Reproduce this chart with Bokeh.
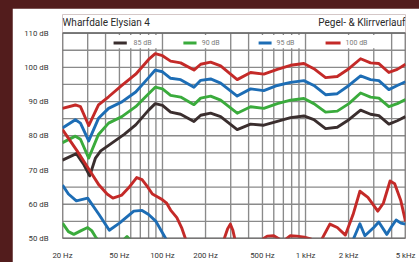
import numpy as np
from bokeh.plotting import figure
from bokeh.models import FixedTicker
from bokeh.embed import file_html
from bokeh.resources import INLINE
from bokeh.core.properties import value

NAN = float("nan")

# ---------------- data ----------------
freq_main = [20, 24.6, 26.7, 30.5, 35.7, 42, 52, 65, 80, 89, 100, 114, 134, 166, 185, 217, 255,
             333, 413, 511, 635, 786, 974, 1144, 1381, 1667, 2009, 2427, 2849, 3257, 3826, 4381, 5000]
level_100 = [88, 89, 88.5, 83, 89, 91.4, 94.7, 98, 102.3, 104, 103.4, 101.8, 101.3, 99.2, 100.9, 101.5, 100.4,
             96.4, 98.5, 98, 99.4, 100.6, 101.1, 99.6, 97, 97.3, 99.6, 102.5, 101.3, 101.1, 98.5, 99.4, 100.9]
level_95 = [82.3, 84.7, 83.7, 78.5, 85.1, 88, 89.9, 92.8, 97, 99.2, 98.7, 96.8, 96.4, 94.2, 96.2, 96.6, 95.4,
            91.6, 93.7, 93.2, 94.7, 95.6, 96.1, 94.7, 92, 92.3, 94.7, 97.5, 96.4, 96.1, 93.5, 94.7, 95.8]
level_90 = [78, 79.9, 79, 73.5, 80.4, 83.7, 85.6, 88.5, 92.3, 94.2, 93.7, 91.8, 91.3, 89.1, 91.0, 91.6, 90.4,
            86.6, 88.5, 88, 89.4, 90.4, 90.9, 89.4, 86.9, 87.2, 89.4, 92.5, 91.3, 91, 88.5, 89.4, 90.6]
freq_85 = [20, 25, 28, 31, 34, 37, 42, 54, 65, 80, 89, 100, 114, 134, 166, 185, 217, 255,
           333, 413, 511, 635, 786, 974, 1144, 1381, 1667, 2009, 2427, 2849, 3257, 3826, 4381, 5000]
level_85 = [72.9, 74.8, 71.8, 68.3, 73.5, 75.6, 77.2, 80.4, 83.2, 87.5, 89.4, 88.9, 86.9, 86.3, 84.2, 86.0, 86.6, 85.6,
            81.8, 83.4, 83.1, 84.2, 85.3, 85.8, 84.7, 82.1, 82.5, 84.7, 87.5, 86.3, 85.9, 83.4, 84.4, 85.6]

# distortion (Klirr) curves, NaN separates segments
thd_freq_red = [20, 25.3, 30.5, 36, 41, 45, 52, 58, 66, 72, 78, 85, 94, 100, 107, 114, 126, 136, 146, NAN,
                268, 285, 298, 310, 322, NAN,
                500, 540, 600, 660, NAN,
                730, 780, 870, 980, 1100, NAN,
                1300, 1480, 1667, 1900, 2150, 2400, 2730, 3200, 3500, 3900, 4200, 4640, 5000]
thd_red = [81.8, 75.6, 70.3, 65.6, 63, 61.8, 62.7, 64.8, 67.8, 67.2, 65.3, 63, 62, 61.3, 60.3, 58.3, 56.1, 53.2, 49.5, NAN,
           49.5, 52.8, 54.2, 52.5, 49.5, NAN,
           49.8, 50.7, 50.8, 49.8, NAN,
           49.8, 50.8, 50.7, 50.4, 49.8, NAN,
           49.8, 54.2, 53.2, 51, 57, 63.8, 62, 58, 60.3, 66.8, 66, 61, 55]
thd_freq_blue = [20, 22, 25, 30, 36, 42.5, 50, 63, 72, 80, 90, 102, 107, NAN,
                 2150, 2400, 2600, 3000, 3250, 3700, 4000, 4300, 4640, 5000]
thd_blue = [65.6, 63, 61, 61.8, 57, 52.4, 54.5, 58, 58.2, 57, 55, 51, 49.5, NAN,
            49.6, 54.3, 50.8, 53.2, 54.8, 51.2, 53.5, 55.4, 54.5, 54.2]
thd_freq_green = [20, 22, 24, 27, 30, 32, 34, 35.5, NAN, 53.5, 56.5, 59.5]
thd_green = [54.5, 52, 51.2, 52.3, 53.2, 52.3, 50.5, 49.5, NAN, 49.6, 50.6, 49.6]

legend_labels = ["85 dB", "90 dB", "95 dB", "100 dB"]
x_tick_values = [20, 50, 100, 200, 500, 1000, 2000, 5000]
x_tick_labels = ["20 Hz", "50 Hz", "100 Hz", "200 Hz", "500 Hz", "1 kHz", "2 kHz", "5 kHz"]
y_tick_values = [50, 60, 70, 80, 90, 100, 110]
y_tick_labels = ["50 dB", "60 dB", "70 dB", "80 dB", "90 dB", "100 dB", "110 dB"]
title_left = "Wharfdale Elysian 4"
title_right = "Pegel- & Klirrverlauf"

# ---------------- style ----------------
C_RED, C_BLUE, C_GREEN, C_BLACK = "#c42a28", "#1d6db5", "#3aab3c", "#3a2e2e"
FONT = value("Roboto")
LW = 2.9
F_MIN, F_MAX, DB_MIN, DB_MAX = 20, 5000, 50, 110
DB_TOP = 115.43   # room above the grid for the titles

p = figure(width=407, height=254, x_axis_type="log", x_range=(F_MIN, F_MAX), y_range=(DB_MIN, DB_TOP),
           output_backend="svg", toolbar_location=None,
           min_border_left=50, min_border_right=14, min_border_top=6, min_border_bottom=19)
p.title.visible = False
p.background_fill_color = "white"
p.border_fill_color = "white"
p.outline_line_color = None
p.xgrid.visible = False
p.ygrid.visible = False

for ax in (p.xaxis, p.yaxis):
    ax.axis_line_color = None
    ax.major_tick_line_color = None
    ax.minor_tick_line_color = None
    ax.major_label_text_font = "Roboto"
    ax.major_label_text_font_size = "7.8px"
    ax.major_label_text_color = "#333333"
p.xaxis.ticker = FixedTicker(ticks=x_tick_values)
p.xaxis.major_label_overrides = {v: l for v, l in zip(x_tick_values, x_tick_labels)}
p.xaxis.major_label_standoff = 6
p.yaxis.ticker = FixedTicker(ticks=y_tick_values)
p.yaxis.major_label_overrides = {v: l for v, l in zip(y_tick_values, y_tick_labels)}
p.yaxis.major_label_standoff = 8

# grid (drawn as segments, limited to the measurement area)
grid_x = [m * d for d in (10, 100, 1000) for m in range(1, 10) if F_MIN <= m * d <= F_MAX]
grid_y = list(range(DB_MIN, DB_MAX + 1, 5))
GRID = "#8a8a8a"
p.segment(x0=grid_x, x1=grid_x, y0=DB_MIN, y1=DB_MAX, line_color=GRID, line_width=1.35)
p.segment(x0=F_MIN, x1=F_MAX, y0=grid_y, y1=grid_y, line_color=GRID, line_width=1.35)

# legend row: white cells over the grid in the top band
cell_left = [40, 100, 400, 1000]
cell_right = [100, 300, 1000, 4000]
p.quad(left=[c * 1.025 for c in cell_left], right=[c / 1.025 for c in cell_right],
       bottom=105.55, top=109.45, fill_color="white", line_color=None)

# outer frame
p.quad(left=F_MIN, right=F_MAX, bottom=DB_MIN, top=DB_MAX, fill_color=None,
       line_color="#666666", line_width=1.5)

# level curves
p.line(freq_85, level_85, line_color=C_BLACK, line_width=LW, line_join="round")
p.line(freq_main, level_90, line_color=C_GREEN, line_width=LW, line_join="round")
p.line(freq_main, level_95, line_color=C_BLUE, line_width=LW, line_join="round")
p.line(freq_main, level_100, line_color=C_RED, line_width=LW, line_join="round")

# distortion curves
p.line(thd_freq_green, thd_green, line_color=C_GREEN, line_width=LW, line_join="round")
p.line(thd_freq_blue, thd_blue, line_color=C_BLUE, line_width=LW, line_join="round")
p.line(thd_freq_red, thd_red, line_color=C_RED, line_width=LW, line_join="round")
p.segment(x0=F_MIN, x1=F_MAX, y0=DB_MIN, y1=DB_MIN, line_color="#666666", line_width=1.5)

# legend entries
leg_x0 = [45.5, 140, 470, 1381]
leg_x1 = [56.3, 173, 579, 1758]
leg_tx = [62.8, 188, 627, 1906]
leg_colors = [C_BLACK, C_GREEN, C_BLUE, C_RED]
leg_y = 107.1
p.segment(x0=leg_x0, x1=leg_x1, y0=leg_y, y1=leg_y, line_color=leg_colors, line_width=3)
p.text(x=leg_tx, y=[leg_y] * 4, text=legend_labels, text_font=FONT, text_font_size="7px",
       text_color="#7a7a7a", text_baseline="middle", text_align="left")

# titles
p.text(x=[F_MIN], y=[113.0], text=[title_left], text_font=FONT, text_font_size="10px",
       text_color="#2a2a2a", text_baseline="middle", text_align="left")
p.text(x=[F_MAX], y=[113.0], text=[title_right], text_font=FONT, text_font_size="10px",
       text_color="#2a2a2a", text_baseline="middle", text_align="right")

html = file_html(p, INLINE, title="Wharfdale Elysian 4")
css = ("<style>html,body{margin:0 !important;background:#521c1c !important;overflow:hidden;}"
       "body{padding:8px 0 0 12px !important;}</style>")
html = html.replace("</head>", css + "</head>", 1)
open("out.html", "w").write(html)
